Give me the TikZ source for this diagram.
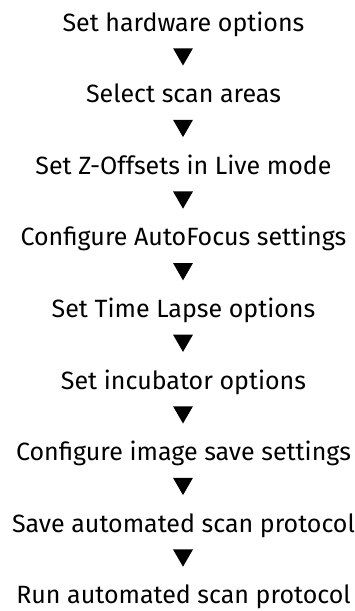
\documentclass[tikz,border=0pt]{standalone}
\usepackage{fontspec}
\setmainfont{Fira Sans}
\usepackage{tikz}
\usetikzlibrary{shapes.geometric}

\begin{document}
\begin{tikzpicture}[x=1pt,y=1pt,
    steptext/.style={anchor=base,inner sep=0pt,font=\fontsize{25}{29}\selectfont},
    marker/.style={regular polygon,regular polygon sides=3,shape border rotate=180,
                   fill=black,draw=none,inner sep=0pt,minimum size=23pt}]
  \def\rowsep{71.6}
  \useasboundingbox (0,0) rectangle (355,-611);
  % --- steps ---
  \foreach \txt [count=\i] in {Set hardware options,Select scan areas,
      Set Z-Offsets in Live mode,Configure AutoFocus settings,
      Set Time Lapse options,Set incubator options,
      Configure image save settings,Save automated scan protocol,
      Run automated scan protocol} {
    \node[steptext] (s\i) at (183.5,-31-\i*\rowsep+\rowsep) {\txt};
  }
  % --- triangles between the steps ---
  \foreach \i in {1,...,8} {
    \node[marker] (t\i) at (183,-54-\i*\rowsep+\rowsep) {};
  }
\end{tikzpicture}
\end{document}
